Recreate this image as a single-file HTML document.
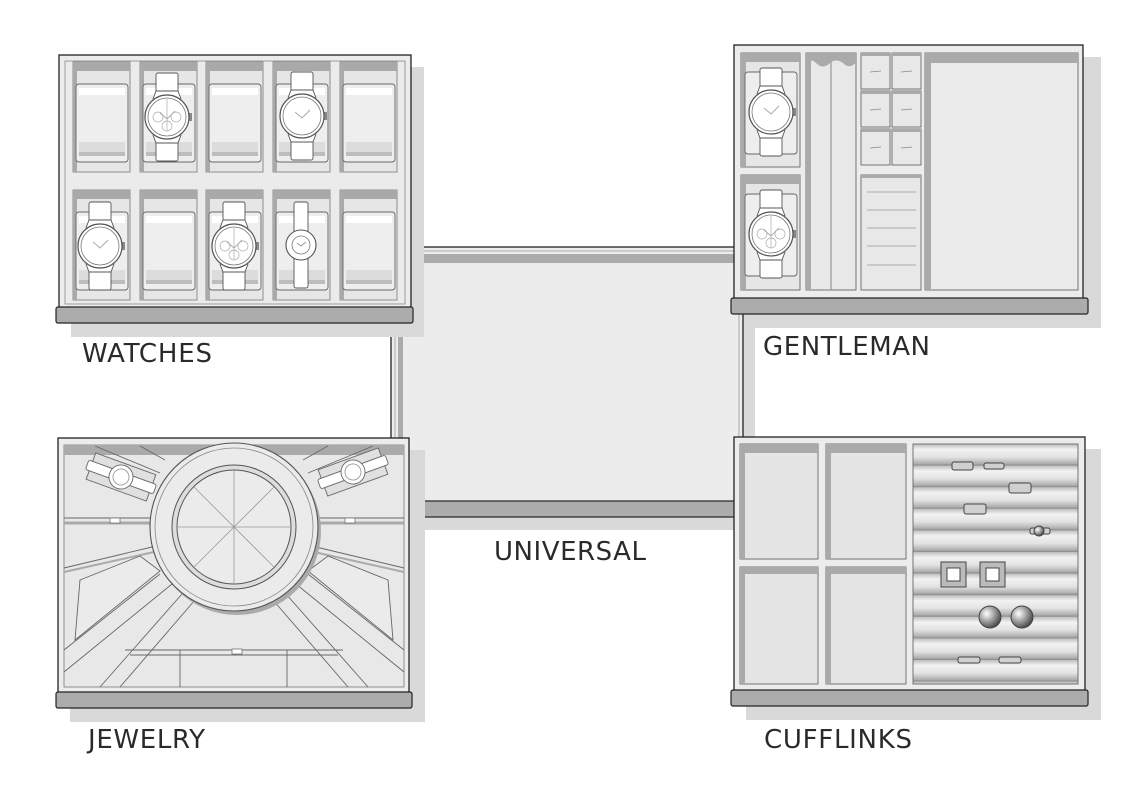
<!DOCTYPE html>
<html><head><meta charset="utf-8"><style>
html,body{margin:0;padding:0;background:#fff;}
svg{display:block}
text{font-family:"DejaVu Sans","Liberation Sans",sans-serif;font-size:26px;fill:#2a2a2a}
</style></head><body>
<svg width="1144" height="788" viewBox="0 0 1144 788" xmlns="http://www.w3.org/2000/svg">
<defs>
 <linearGradient id="rid" x1="0" y1="0" x2="0" y2="1">
  <stop offset="0" stop-color="#bdbdbd"/><stop offset="0.25" stop-color="#f2f2f2"/><stop offset="0.6" stop-color="#e3e3e3"/><stop offset="0.9" stop-color="#b0b0b0"/><stop offset="1" stop-color="#888"/>
 </linearGradient>
 <pattern id="ridges" patternUnits="userSpaceOnUse" x="913" y="444" width="200" height="21.6">
  <rect width="200" height="21.6" fill="url(#rid)"/>
 </pattern>
 <radialGradient id="ball" cx="0.35" cy="0.35" r="0.7"><stop offset="0" stop-color="#fff"/><stop offset="1" stop-color="#444"/></radialGradient>
 <g id="slot">
  <rect x="0" y="0" width="57" height="110" fill="#e6e6e6" stroke="#777" stroke-width="0.8"/>
  <rect x="0" y="0" width="57" height="9" fill="#a9a9a9"/>
  <rect x="0" y="0" width="4" height="110" fill="#a9a9a9"/>
  <rect x="3" y="22" width="52" height="78" rx="3" fill="#eeeeee" stroke="#666" stroke-width="0.9"/>
  <rect x="6" y="26" width="46" height="7" fill="#fff"/>
  <rect x="6" y="80" width="46" height="10" fill="#dcdcdc"/>
  <rect x="6" y="90" width="46" height="4" fill="#bdbdbd"/>
 </g>
 <g id="watch">
  <rect x="-11" y="-44" width="22" height="88" rx="2" fill="#fff" stroke="#555" stroke-width="0.9"/>
  <path d="M-14 -18 L-11 -26 H11 L14 -18 M-14 18 L-11 26 H11 L14 18" fill="#fff" stroke="#555" stroke-width="0.9"/>
  <rect x="21" y="-4" width="4" height="8" fill="#888"/>
  <circle r="22" fill="#fff" stroke="#555" stroke-width="1.2"/>
  <circle r="19" fill="#fff" stroke="#777" stroke-width="0.8"/>
  <path d="M-7 -4 L0 2 L8 -6" fill="none" stroke="#aaa" stroke-width="1"/>
 </g>
 <g id="chrono">
  <use href="#watch"/>
  <circle cx="-9" cy="0" r="5" fill="none" stroke="#aaa" stroke-width="0.7"/>
  <circle cx="9" cy="0" r="5" fill="none" stroke="#aaa" stroke-width="0.7"/>
  <circle cx="0" cy="9" r="5" fill="none" stroke="#aaa" stroke-width="0.7"/>
  <line x1="0" y1="-18" x2="0" y2="14" stroke="#aaa" stroke-width="0.7"/>
 </g>
 <g id="gbox">
  <rect width="29" height="36" fill="#e8e8e8" stroke="#666" stroke-width="0.9"/>
  <rect width="29" height="3" fill="#aaa"/>
  <line x1="9" y1="19" x2="20" y2="18" stroke="#888" stroke-width="0.8"/>
 </g>
</defs>

<!-- UNIVERSAL -->
<rect x="403" y="259" width="352" height="271" fill="#dadada"/>
<rect x="391" y="247" width="352" height="258" fill="#ececec" stroke="#222" stroke-width="1.3"/>
<rect x="395" y="251" width="344" height="250" fill="none" stroke="#aaa" stroke-width="1"/>
<rect x="398" y="254" width="338" height="9" fill="#ababab"/>
<rect x="398" y="254" width="5" height="247" fill="#ababab"/>
<rect x="391" y="501" width="352" height="16" fill="#acacac" stroke="#222" stroke-width="1.2"/>
<text x="494" y="560" textLength="152">UNIVERSAL</text>

<!-- WATCHES -->
<rect x="71" y="67" width="353" height="270" fill="#d9d9d9"/>
<rect x="59" y="55" width="352" height="255" fill="#ececec" stroke="#222" stroke-width="1.3"/>
<rect x="65" y="61" width="340" height="243" fill="#ebebeb" stroke="#888" stroke-width="0.8"/>
<use href="#slot" x="73" y="62"/><use href="#slot" x="140" y="62"/><use href="#slot" x="206" y="62"/><use href="#slot" x="273" y="62"/><use href="#slot" x="340" y="62"/>
<use href="#slot" x="73" y="190"/><use href="#slot" x="140" y="190"/><use href="#slot" x="206" y="190"/><use href="#slot" x="273" y="190"/><use href="#slot" x="340" y="190"/>
<use href="#chrono" x="167" y="117"/>
<use href="#watch" x="302" y="116"/>
<use href="#watch" x="100" y="246"/>
<use href="#chrono" x="234" y="246"/>
<g transform="translate(301,245)">
 <rect x="-7" y="-43" width="14" height="86" rx="2" fill="#fff" stroke="#555" stroke-width="0.9"/>
 <circle r="15" fill="#fff" stroke="#555" stroke-width="1.1"/><circle r="9" fill="#fff" stroke="#777" stroke-width="0.8"/>
 <path d="M-4 -2 L0 1 L5 -3" fill="none" stroke="#999"/>
</g>
<rect x="56" y="307" width="357" height="16" rx="2" fill="#acacac" stroke="#222" stroke-width="1.2"/>
<text x="82" y="362" textLength="130">WATCHES</text>

<!-- GENTLEMAN -->
<rect x="746" y="57" width="355" height="271" fill="#d9d9d9"/>
<rect x="734" y="45" width="349" height="255" fill="#ececec" stroke="#222" stroke-width="1.3"/>
<rect x="741" y="53" width="59" height="114" fill="#e6e6e6" stroke="#666" stroke-width="0.9"/>
<rect x="741" y="53" width="59" height="9" fill="#aaa"/><rect x="741" y="53" width="5" height="114" fill="#aaa"/>
<rect x="745" y="72" width="52" height="82" rx="3" fill="#eee" stroke="#666" stroke-width="0.9"/>
<rect x="741" y="175" width="59" height="115" fill="#e6e6e6" stroke="#666" stroke-width="0.9"/>
<rect x="741" y="175" width="59" height="9" fill="#aaa"/><rect x="741" y="175" width="5" height="115" fill="#aaa"/>
<rect x="745" y="194" width="52" height="82" rx="3" fill="#eee" stroke="#666" stroke-width="0.9"/>
<use href="#watch" x="771" y="112"/>
<use href="#chrono" x="771" y="234"/>
<rect x="806" y="53" width="50" height="237" fill="#e8e8e8" stroke="#666" stroke-width="0.9"/>
<path d="M806 53 H856 V62 Q850 70 843 63 Q836 58 830 63 Q823 70 816 63 Q811 58 806 63 Z" fill="#aaa"/>
<rect x="806" y="53" width="5" height="237" fill="#aaa"/>
<line x1="831" y1="62" x2="831" y2="290" stroke="#888" stroke-width="1"/>
<use href="#gbox" x="861" y="53"/><use href="#gbox" x="892" y="53"/>
<use href="#gbox" x="861" y="91"/><use href="#gbox" x="892" y="91"/>
<use href="#gbox" x="861" y="129"/><use href="#gbox" x="892" y="129"/>
<rect x="861" y="175" width="60" height="115" fill="#e8e8e8" stroke="#666" stroke-width="0.9"/>
<rect x="861" y="175" width="60" height="3" fill="#aaa"/>
<path d="M867 192 H916 M867 210 H916 M867 228 H916 M867 246 H916 M867 265 H916" stroke="#999" stroke-width="0.8"/>
<rect x="925" y="53" width="153" height="237" fill="#ebebeb" stroke="#666" stroke-width="0.9"/>
<rect x="925" y="53" width="153" height="10" fill="#aaa"/><rect x="925" y="53" width="6" height="237" fill="#aaa"/>
<rect x="731" y="298" width="357" height="16" rx="2" fill="#acacac" stroke="#222" stroke-width="1.2"/>
<text x="763" y="355" textLength="167">GENTLEMAN</text>

<!-- CUFFLINKS -->
<rect x="746" y="449" width="355" height="271" fill="#d9d9d9"/>
<rect x="734" y="437" width="351" height="256" fill="#ececec" stroke="#222" stroke-width="1.3"/>
<g fill="#e5e5e5" stroke="#666" stroke-width="0.9">
<rect x="740" y="444" width="78" height="115"/><rect x="826" y="444" width="80" height="115"/>
<rect x="740" y="567" width="78" height="117"/><rect x="826" y="567" width="80" height="117"/>
</g>
<g fill="#aaa">
<rect x="740" y="444" width="78" height="9"/><rect x="826" y="444" width="80" height="9"/>
<rect x="740" y="567" width="78" height="7"/><rect x="826" y="567" width="80" height="7"/>
<rect x="740" y="444" width="5" height="115"/><rect x="826" y="444" width="5" height="115"/>
<rect x="740" y="567" width="5" height="117"/><rect x="826" y="567" width="5" height="117"/>
</g>
<rect x="913" y="444" width="165" height="240" fill="url(#ridges)" stroke="#666" stroke-width="0.9"/>
<g stroke="#444" stroke-width="1" fill="#d0d0d0">
<rect x="952" y="462" width="21" height="8" rx="2"/><rect x="984" y="463" width="20" height="6" rx="2"/>
<rect x="1009" y="483" width="22" height="10" rx="2"/>
<rect x="964" y="504" width="22" height="10" rx="2"/>
<rect x="1030" y="528" width="20" height="6" rx="2"/><circle cx="1039" cy="531" r="5" fill="url(#ball)"/>
<rect x="941" y="562" width="25" height="25" fill="#bbb"/><rect x="947" y="568" width="13" height="13" fill="#fff"/>
<rect x="980" y="562" width="25" height="25" fill="#bbb"/><rect x="986" y="568" width="13" height="13" fill="#fff"/>
<circle cx="990" cy="617" r="11" fill="url(#ball)"/><circle cx="1022" cy="617" r="11" fill="url(#ball)"/>
<rect x="958" y="657" width="22" height="6" rx="2"/><rect x="999" y="657" width="22" height="6" rx="2"/>
</g>
<rect x="731" y="690" width="357" height="16" rx="2" fill="#acacac" stroke="#222" stroke-width="1.2"/>
<text x="764" y="748" textLength="148">CUFFLINKS</text>

<!-- JEWELRY -->
<rect x="70" y="450" width="355" height="272" fill="#d9d9d9"/>
<rect x="58" y="438" width="351" height="256" fill="#ececec" stroke="#222" stroke-width="1.3"/>
<rect x="64" y="445" width="340" height="242" fill="#e8e8e8" stroke="#777" stroke-width="0.8"/>
<rect x="64" y="445" width="340" height="10" fill="#aaa"/>
<g stroke="#666" stroke-width="0.9" fill="none">
<path d="M64 518 H160 M306 518 H404"/>
<path d="M64 523 H155 M312 523 H404" stroke="#aaa" stroke-width="3"/>
<path d="M64 568 L152 547 M404 568 L316 547"/>
<path d="M64 572 L154 552 M404 572 L314 552" stroke="#aaa" stroke-width="2"/>
<path d="M80 580 L140 556 L160 571 L75 640 Z M388 580 L328 556 L308 571 L393 640 Z" fill="#ebebeb"/>
<path d="M64 650 L160 574 M64 672 L172 584 M100 687 L182 594 M120 687 L195 600"/>
<path d="M404 650 L308 574 M404 672 L296 584 M368 687 L286 594 M348 687 L273 600"/>
<path d="M125 650 H343 M180 650 V687 M287 650 V687 M130 655 H338" />
<path d="M95 446 L160 473 M373 446 L308 473 M140 446 L165 460 M328 446 L303 460"/>
</g>
<rect x="110" y="518" width="10" height="5" fill="#fff" stroke="#666" stroke-width="0.7"/>
<rect x="345" y="518" width="10" height="5" fill="#fff" stroke="#666" stroke-width="0.7"/>
<rect x="232" y="649" width="10" height="5" fill="#fff" stroke="#666" stroke-width="0.7"/>
<circle cx="237" cy="531" r="84" fill="#aaa"/>
<circle cx="234" cy="527" r="84" fill="#ebebeb" stroke="#555" stroke-width="1.1"/>
<circle cx="234" cy="527" r="79" fill="none" stroke="#888" stroke-width="0.8"/>
<circle cx="234" cy="527" r="62" fill="#ddd" stroke="#555" stroke-width="1"/>
<circle cx="234" cy="527" r="57" fill="#ebebeb" stroke="#555" stroke-width="1"/>
<g stroke="#999" stroke-width="0.8">
<line x1="234" y1="470" x2="234" y2="584"/><line x1="177" y1="527" x2="291" y2="527"/>
<line x1="194" y1="487" x2="274" y2="567"/><line x1="274" y1="487" x2="194" y2="567"/>
</g>
<g transform="translate(121,477) rotate(20)" stroke="#666" stroke-width="0.9">
<rect x="-32" y="-14" width="64" height="28" fill="#e0e0e0"/>
<rect x="-36" y="-5" width="72" height="10" rx="2" fill="#fff"/>
<circle r="12" fill="#fff"/><circle r="8" fill="#fff" stroke="#999"/>
</g>
<g transform="translate(353,472) rotate(-20)" stroke="#666" stroke-width="0.9">
<rect x="-32" y="-14" width="64" height="28" fill="#e0e0e0"/>
<rect x="-36" y="-5" width="72" height="10" rx="2" fill="#fff"/>
<circle r="12" fill="#fff"/><circle r="8" fill="#fff" stroke="#999"/>
</g>
<rect x="56" y="692" width="356" height="16" rx="2" fill="#acacac" stroke="#222" stroke-width="1.2"/>
<text x="88" y="748" textLength="117">JEWELRY</text>
</svg>
</body></html>
